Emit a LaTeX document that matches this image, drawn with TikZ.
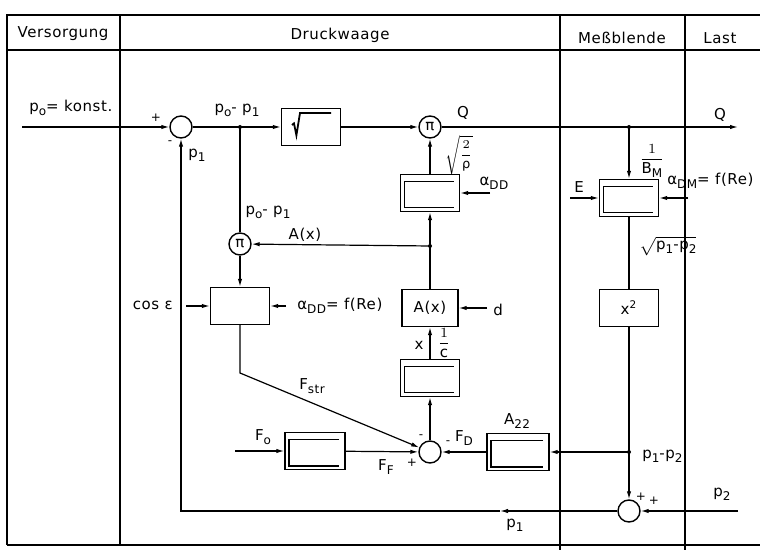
\documentclass[tikz,border=0pt]{standalone}
\usepackage{amsmath}
\usepackage{fontspec}
\setmainfont{DejaVu Sans}[LetterSpace=4]
\usetikzlibrary{arrows.meta}
\newcommand{\ix}[1]{\raisebox{-.5ex}{\fontsize{6pt}{6pt}\selectfont #1}}
\tikzset{
  blk/.style={draw,line width=.7pt,minimum width=29.5pt,minimum height=18.5pt,inner sep=0pt},
  dblk/.style={blk,path picture={\draw[line width=.6pt]
      ([shift={(-3pt,-3.5pt)}]path picture bounding box.north east)--
      ([shift={(2pt,-3.5pt)}]path picture bounding box.north west)--
      ([shift={(2pt,1.8pt)}]path picture bounding box.south west)--
      ([shift={(-3pt,1.8pt)}]path picture bounding box.south east);}},
  adder/.style={draw,circle,line width=.7pt,minimum size=11pt,inner sep=0pt},
  jn/.style={fill,circle,inner sep=0pt,minimum size=2pt},
  sgn/.style={font=\fontsize{6pt}{6pt}\selectfont,inner sep=0pt},
}
\begin{document}
\begin{tikzpicture}[x=.5pt,y=-.5pt,>={Latex[length=4pt,width=2.2pt]},line width=.6pt,font=\fontsize{7.5pt}{9pt}\selectfont]
    \useasboundingbox (0,0) rectangle (760,550);
    % table
    \draw (7,545)--(7,15)--(760,15);
    \draw (7,50)--(760,50);
    \draw (7,545)--(760,545);
    \draw (120,15)--(120,545);
    \draw (560,15)--(560,550);
    \draw (685,15)--(685,550);
    \node (hv) at (63,34) {Versorgung};
    \node (hd) at (340,35) {Druckwaage};
    \node (hm) at (622,38) {Meßblende};
    \node (hl) at (720,38) {Last};
    % blocks
    \node[adder] (s1) at (181,127) {};
    \node[blk] (sq) at (311,127) {};
    \node[adder] (m1) at (430,127) {π};
    \node[dblk] (rho) at (430,193) {};
    \node[adder] (m2) at (240,244) {π};
    \node[blk] (cw) at (240,306) {};
    \node[blk,minimum width=28pt] (ax) at (430,308) {A(x)};
    \node[dblk] (cf) at (430,378) {};
    \node[adder] (s2) at (430,452) {};
    \node[dblk,minimum width=30pt] (fo) at (315,451) {};
    \node[dblk,minimum width=31pt] (aa) at (518,452) {};
    \node[dblk] (mb) at (629,198) {};
    \node[blk] (xq) at (629,308) {x\textsuperscript{2}};
    \node[adder] (s3) at (629,511) {};
    \draw[line width=.9pt]([shift={(-9.5pt,1pt)}]sq.center)--++(1pt,.8pt)--++(1.2pt,-6pt)--++(1.8pt,11.2pt)--++(15.5pt,0);
    % free ends
    \coordinate (pin) at (22,127);
    \coordinate (b1) at (240,127);
    \coordinate (b2) at (629,127);
    \coordinate (qout) at (738,127);
    \coordinate (j1) at (430,246);
    \coordinate (b3) at (629,452);
    \coordinate (p2in) at (738,511);
    \coordinate (pk) at (181,511);
    \coordinate (pm) at (500,511);
    \coordinate (kn) at (240,373);
    \coordinate (foin) at (235,451);
    \coordinate (cein) at (186,306);
    \coordinate (afin) at (286,306);
    \coordinate (din) at (487,308);
    \coordinate (ain) at (490,193);
    \coordinate (ein) at (570,198);
    \coordinate (amin) at (688,198);
    % signals
    \draw[->](pin)--(s1);
    \draw[->](s1)--(sq);
    \draw[->](sq)--(m1);
    \draw[->](m1)--(qout);
    \draw[->](b2)--(mb);
    \draw[->](ein)--(mb);
    \draw[->](amin)--(mb);
    \draw(mb)--(xq);
    \draw(xq)--(b3);
    \draw[->](b3)--(s3);
    \draw[->](b3)--(aa);
    \draw[->](p2in)--(s3);
    \draw[->](s3)--(pm);
    \draw[->](pm)--(pk)--(s1);
    \draw[->](aa)--(s2);
    \draw[->](fo)--(s2);
    \draw[->](foin)--(fo);
    \draw[->](cw)--(kn)--(s2);
    \draw[->](s2)--(cf);
    \draw[->](cf)--(ax);
    \draw[->](din)--(ax);
    \draw(ax)--(j1);
    \draw[->](j1)--(rho);
    \draw[->](j1)--(m2);
    \draw[->](rho)--(m1);
    \draw[->](ain)--(rho);
    \draw(b1)--(m2);
    \draw[->](m2)--(cw);
    \draw[->](cein)--(cw);
    \draw[->](afin)--(cw);
    \node[jn] (d1) at (b1) {};
    \node[jn] (d2) at (b2) {};
    \node[jn] (d3) at (j1) {};
    \node[jn] (d4) at (b3) {};
    % labels
    \node[anchor=west] (lpo) at (22,108) {p\ix{o}= konst.};
    \node[sgn] (g1) at (156,118) {+};
    \node[sgn] (g2) at (170,143) {-};
    \node (lp1a) at (197,155) {p\ix{1}};
    \node (ld1) at (237,110) {p\ix{o}- p\ix{1}};
    \node (lq1) at (463,113) {Q};
    \node (lq2) at (720,115) {Q};
    \node[inner sep=0pt,font=\fontsize{6.5pt}{7pt}\selectfont] (lrho) at (459,155) {$\sqrt{\dfrac{2}{\text{ρ}}}$};
    \node (la1) at (494,183) {α\ix{DD}};
    \node (ld2) at (268,212) {p\ix{o}- p\ix{1}};
    \node (lax) at (305,235) {A(x)};
    \node[anchor=east] (lce) at (180,305) {cos ε};
    \node[anchor=west] (la2) at (290,306) {α\ix{DD}= f(Re)};
    \node[anchor=west] (ld) at (486,310) {d};
    \node (lx) at (419,345) {x};
    \node (lc) at (444,343) {$\dfrac{1}{\text{c}}$};
    \node (lfs) at (312,386) {F\ix{str}};
    \node (lfo) at (263,437) {F\ix{o}};
    \node (lff) at (386,467) {F\ix{F}};
    \node[sgn] (g3) at (412,463) {+};
    \node[sgn] (g4) at (421,437) {-};
    \node[sgn] (g5) at (448,443) {-};
    \node (lfd) at (464,438) {F\ix{D}};
    \node (l22) at (517,421) {A\ix{22}};
    \node[anchor=west] (ldp) at (635,456) {p\ix{1}-p\ix{2}};
    \node[sgn] (g6) at (641,497) {+};
    \node[sgn] (g7) at (654,501) {+};
    \node (lp2) at (722,494) {p\ix{2}};
    \node (lp1b) at (515,525) {p\ix{1}};
    \node (lbm) at (652,161) {$\dfrac{1}{\text{B\ix{M}}}$};
    \node (le) at (579,187) {E};
    \node[anchor=west] (la3) at (660,181) {α\ix{DM}= f(Re)};
    \node[anchor=west] (lsq) at (632,246) {$\sqrt{\text{p\ix{1}-p\ix{2}}}$};
\end{tikzpicture}
\end{document}
